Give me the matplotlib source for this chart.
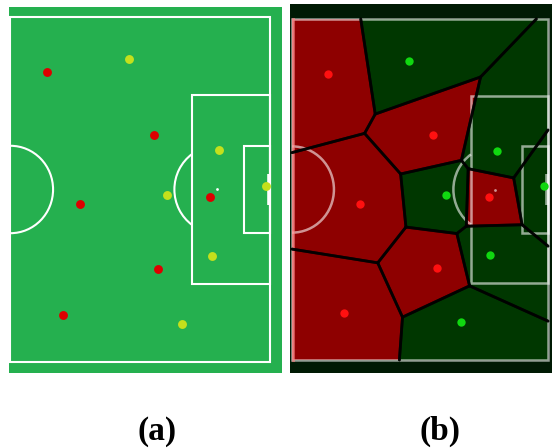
import matplotlib.pyplot as plt
import numpy as np
from matplotlib.patches import Rectangle, Arc, Polygon

# half pitch in metres: x from halfway line (0) to goal line, y from top touchline
pitch_len = 52.5
pitch_wid = 68.0

# player positions (metres)
red_x = [7.3, 29.0, 14.0, 40.3, 29.8, 10.6]
red_y = [10.9, 23.2, 36.9, 35.4, 49.7, 58.7]
other_x = [23.9, 42.1, 31.6, 51.6, 40.6, 34.7]
other_y = [8.3, 26.3, 35.1, 33.3, 47.0, 60.5]

panel_labels = ['(a)', '(b)']


def draw_lines(ax, color, alpha, lw=1.5):
    kw = dict(color=color, alpha=alpha, lw=lw, fill=False)
    ax.add_patch(Rectangle((0, 0), pitch_len, pitch_wid, **kw))
    ax.add_patch(Rectangle((36.7, 15.35), pitch_len - 36.7, 37.3, **kw))
    ax.add_patch(Rectangle((47.15, 25.4), pitch_len - 47.15, 17.2, **kw))
    ax.add_patch(Arc((0, 34), 17.2, 17.2, theta1=-90, theta2=90, color=color, alpha=alpha, lw=lw))
    # penalty arc outside the box
    half = np.degrees(np.arccos((41.7 - 36.7) / 8.6))
    ax.add_patch(Arc((41.7, 34), 17.2, 17.2, theta1=180 - half, theta2=180 + half,
                     color=color, alpha=alpha, lw=lw))
    ax.plot([41.7], [34], 'o', color=color, alpha=alpha, ms=2, mew=0)
    ax.plot([pitch_len - 0.2, pitch_len - 0.2], [30.95, 37.05], color=color, alpha=alpha, lw=2.6,
            solid_capstyle='butt')


def clip(poly, a, b, c):
    # keep the part of poly with a*x + b*y <= c
    out = []
    n = len(poly)
    for k in range(n):
        p = poly[k]
        q = poly[(k + 1) % n]
        fp = a * p[0] + b * p[1] - c
        fq = a * q[0] + b * q[1] - c
        if fp <= 0:
            out.append(p)
        if fp * fq < 0:
            t = fp / (fp - fq)
            out.append((p[0] + t * (q[0] - p[0]), p[1] + t * (q[1] - p[1])))
    return out


def voronoi_cells(px, py):
    pts = np.column_stack([px, py])
    cells = []
    for i, p in enumerate(pts):
        poly = [(0, 0), (pitch_len, 0), (pitch_len, pitch_wid), (0, pitch_wid)]
        for j, q in enumerate(pts):
            if i == j:
                continue
            a, b = q - p
            c = (q @ q - p @ p) / 2
            poly = clip(poly, a, b, c)
        cells.append(poly)
    return cells


def on_border(p, q, eps=1e-6):
    for v in (0, pitch_len):
        if abs(p[0] - v) < eps and abs(q[0] - v) < eps:
            return True
    for v in (0, pitch_wid):
        if abs(p[1] - v) < eps and abs(q[1] - v) < eps:
            return True
    return False


fig = plt.figure(figsize=(5.52, 4.48), dpi=100)

# (a) plain pitch with players
ax1 = fig.add_axes([9 / 552, (448 - 373.3) / 448, 273.3 / 552, 366.3 / 448])
ax1.set_facecolor('#25b04f')
ax1.set_xlim(-0.30, 54.89)
ax1.set_ylim(70.17, -1.91)
draw_lines(ax1, 'white', 1.0)
ax1.plot(red_x, red_y, 'o', color='#dd0000', ms=6.4, mew=0)
ax1.plot(other_x, other_y, 'o', color='#c4e01c', ms=6.4, mew=0)

# (b) voronoi regions of both teams
ax2 = fig.add_axes([290 / 552, (448 - 373) / 448, 262 / 552, 369 / 448])
ax2.set_facecolor('#001a04')
ax2.set_xlim(-0.41, 53.32)
ax2.set_ylim(70.59, -2.99)
all_x = red_x + other_x
all_y = red_y + other_y
cells = voronoi_cells(all_x, all_y)
for k, cell in enumerate(cells):
    fc = '#8e0000' if k < len(red_x) else '#003700'
    ax2.add_patch(Polygon(cell, closed=True, facecolor=fc, edgecolor='none'))
draw_lines(ax2, 'white', 0.58, lw=1.8)
# halfway line shows up stronger
ax2.plot([0.15, 0.15], [0, pitch_wid], color='#ff8080', alpha=0.6, lw=2.2)
for cell in cells:
    n = len(cell)
    for k in range(n):
        p, q = cell[k], cell[(k + 1) % n]
        if on_border(p, q):
            continue
        ax2.plot([p[0], q[0]], [p[1], q[1]], color='black', lw=2.0, alpha=0.8,
                 solid_capstyle='round')
ax2.plot(red_x, red_y, 'o', color='#ff1010', ms=6.0, mew=0)
ax2.plot(other_x, other_y, 'o', color='#10d810', ms=6.0, mew=0)

for ax in (ax1, ax2):
    ax.set_xticks([])
    ax.set_yticks([])
    for s in ax.spines.values():
        s.set_visible(False)

for lbl, xc in zip(panel_labels, [157.5, 440]):
    fig.text(xc / 552, 1 - 431 / 448, lbl, ha='center', va='center', fontsize=24,
             fontweight='bold', family='Liberation Serif')

fig.savefig('out.png', dpi=100)
